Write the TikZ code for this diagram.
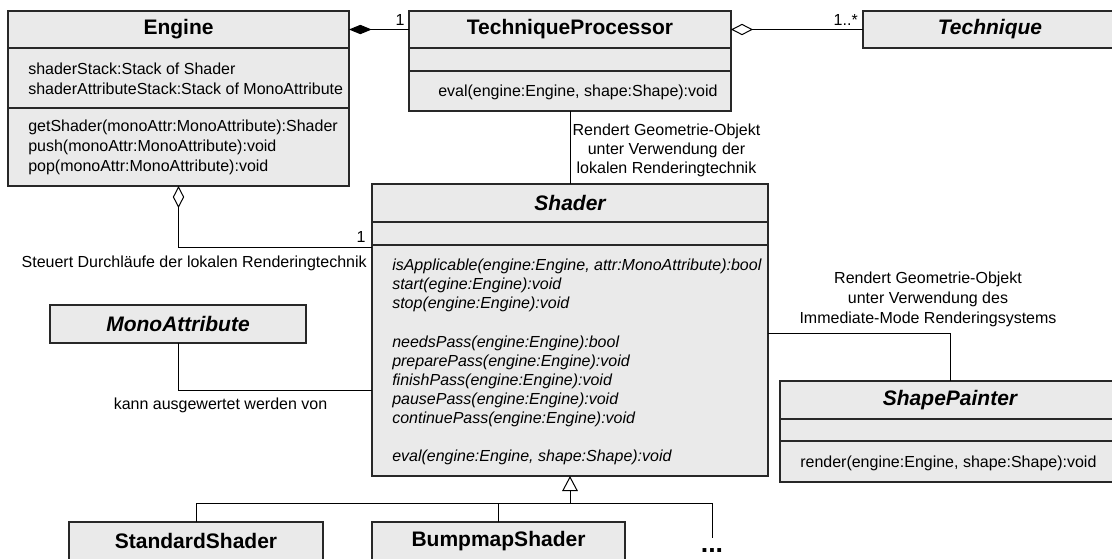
\documentclass[tikz,border=0pt]{standalone}
\usepackage{fontspec}
\setmainfont{Liberation Sans}
\usetikzlibrary{fit,arrows.meta}
\definecolor{boxfill}{RGB}{234,234,234}
\definecolor{edge}{RGB}{40,40,40}

\tikzset{
  cls/.style={draw=edge, fill=boxfill, line width=0.8pt, inner sep=0pt, outer sep=0pt},
  part/.style={draw=edge, line width=0.8pt, inner sep=0pt, outer sep=0pt},
  tfont/.style={inner sep=0pt, font=\fontsize{15.75}{18}\selectfont\bfseries},
  tfonti/.style={inner sep=0pt, font=\fontsize{15.75}{18}\selectfont\bfseries\itshape},
  mem/.style={inner sep=0pt, align=left, anchor=west, font=\fontsize{12}{15}\selectfont},
  memi/.style={inner sep=0pt, align=left, anchor=west, font=\fontsize{12}{14.3}\selectfont\itshape},
  lbl/.style={inner sep=0pt, font=\fontsize{12}{14.5}\selectfont},
  link/.style={draw=black, line width=0.75pt},
  aggr/.style={link, {Diamond[open, length=16.5pt, width=8.5pt]}-},
  compo/.style={link, {Diamond[length=17pt, width=7pt]}-},
  inherit/.style={link, {Triangle[open, length=11.25pt, width=11.7pt]}-},
}

\begin{document}
\begin{tikzpicture}[x=0.75pt, y=-0.75pt]
\useasboundingbox (0,0) rectangle (1112,558);
\fill[white] (0,0) rectangle (1112,558);
\clip (0,0) rectangle (1112,558);

% Engine
\node[cls, fit={(8,11)(349,186)}] (engine) {};
\node[part, fit={(8,11)(349,48)}, label={[tfont]center:Engine}] (engT) {};
\node[part, fit={(8,48)(349,108)}] (engAttr) {};
\node[mem] (engA) at (28,79) {shaderStack:Stack of Shader\\shaderAttributeStack:Stack of MonoAttribute};
\node[mem] (engM) at (28,147) {getShader(monoAttr:MonoAttribute):Shader\\push(monoAttr:MonoAttribute):void\\pop(monoAttr:MonoAttribute):void};

% TechniqueProcessor
\node[cls, fit={(409,11)(731,111)}] (tp) {};
\node[part, fit={(409,11)(731,48)}, label={[tfont]center:TechniqueProcessor}] (tpT) {};
\node[part, fit={(409,48)(731,71)}] (tpAttr) {};
\node[mem] (tpM) at (438,92) {eval(engine:Engine, shape:Shape):void};

% Technique
\node[cls, fit={(863,11)(1117,48)}, label={[tfonti]center:Technique}] (tech) {};

% Shader
\node[cls, fit={(372,184)(768,476)}] (shader) {};
\node[part, fit={(372,184)(768,222)}, label={[tfonti]center:Shader}] (shT) {};
\node[part, fit={(372,222)(768,245)}] (shAttr) {};
\node[memi] (shMeth) at (392,362) {isApplicable(engine:Engine, attr:MonoAttribute):bool\\
  start(egine:Engine):void\\
  stop(engine:Engine):void\\
  \mbox{}\\
  needsPass(engine:Engine):bool\\
  preparePass(engine:Engine):void\\
  finishPass(engine:Engine):void\\
  pausePass(engine:Engine):void\\
  continuePass(engine:Engine):void\\
  \mbox{}\\
  eval(engine:Engine, shape:Shape):void};

% MonoAttribute
\node[cls, fit={(50,305)(306,343)}, label={[tfonti]center:MonoAttribute}] (mono) {};

% ShapePainter
\node[cls, fit={(780,381)(1120,482)}] (sp) {};
\node[part, fit={(780,381)(1120,419)}, label={[tfonti]center:ShapePainter}] (spT) {};
\node[part, fit={(780,419)(1120,441)}] (spAttr) {};
\node[mem] (spM) at (800,463) {render(engine:Engine, shape:Shape):void};

% Subclasses
\node[cls, fit={(69,522)(323,600)}] (std) {};
\node[part, fit={(69,522)(323,560)}, label={[tfont]center:StandardShader}] (stdT) {};
\node[cls, fit={(372,522)(625,600)}] (bump) {};
\node[part, fit={(372,522)(625,560)}, label={[tfont]center:BumpmapShader}] (bumpT) {};

% attachment points
\coordinate (shE) at (372,247);
\coordinate (shMono) at (372,390);
\coordinate (shP) at (768,333);
\coordinate (gj) at (570,503);
\coordinate (more) at (712,538);

% connectors
\draw[compo] (engT.east) -- (tpT.west);
\draw[aggr] (tpT.east) -- (tech.west);
\draw[link] (tp.south) -- (shader.north);
\draw[aggr] (engine.south) |- (shE);
\draw[link] (mono.south) |- (shMono);
\draw[link] (shP) -| (sp.north);
\draw[inherit] (shader.south) -- (gj);
\draw[link] (std.north) |- (gj);
\draw[link] (bump.north) |- (gj);
\draw[link] (gj) -| (more);

% labels
\node[lbl, anchor=base] (m1) at (400,25) {1};
\node[lbl, anchor=base east] (m2) at (858,25) {1..*};
\node[lbl, anchor=base] (m3) at (361,242.5) {1};
\node[lbl, align=center] (l1) at (666.5,150.5) {Rendert Geometrie-Objekt\\unter Verwendung der\\lokalen Renderingtechnik};
\node[lbl, anchor=base east] (l2) at (367,267.5) {Steuert Durchläufe der lokalen Renderingtechnik};
\node[lbl, anchor=base] (l3) at (220.5,409) {kann ausgewertet werden von};
\node[lbl, align=center, font=\fontsize{12}{15}\selectfont] (l4) at (928,299.5) {Rendert Geometrie-Objekt\\unter Verwendung des\\Immediate-Mode Renderingsystems};
\node[inner sep=0pt, anchor=base, font=\fontsize{20}{22}\selectfont\bfseries] (dots) at (712,552) {...};
\end{tikzpicture}
\end{document}
